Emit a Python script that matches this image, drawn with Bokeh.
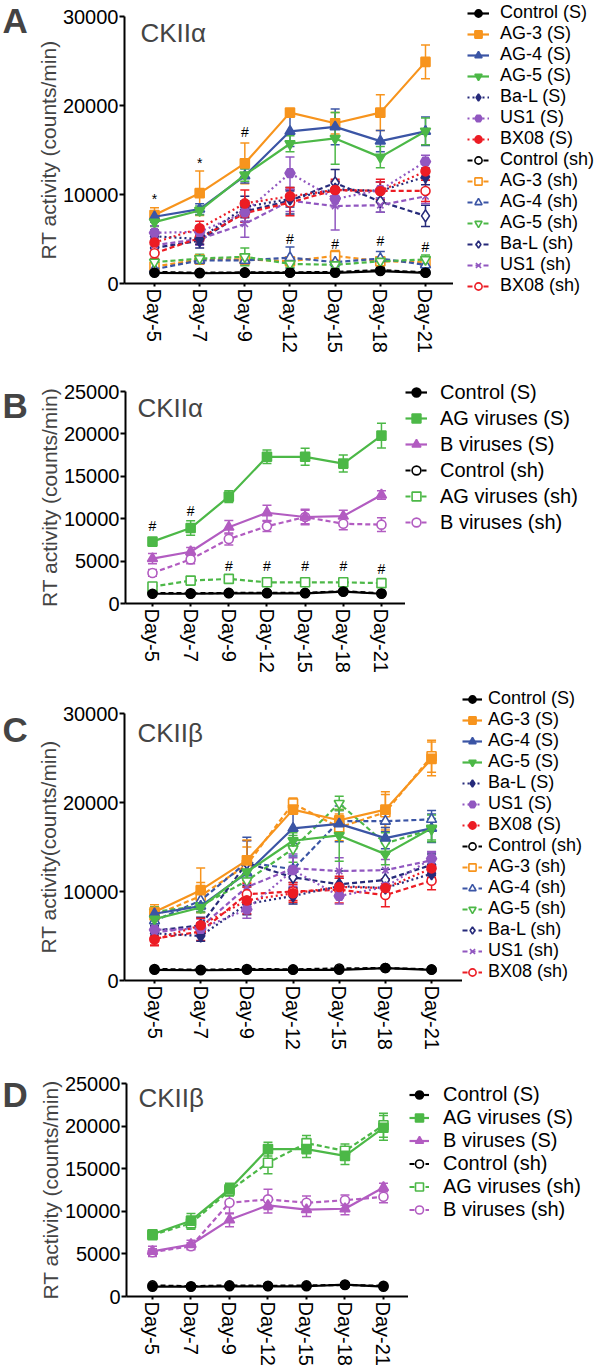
from bokeh.plotting import figure
from bokeh.models import (Range1d, FixedTicker, Legend, LegendItem, Label,
                          Whisker, TeeHead, ColumnDataSource)
from bokeh.layouts import column, row
from bokeh.embed import file_html
from bokeh.resources import INLINE

FONT = "Liberation Sans"

# ---------------- data ----------------
days = ["Day-5", "Day-7", "Day-9", "Day-12", "Day-15", "Day-18", "Day-21"]

# Panel A / C  (individual viruses), S series shared
control_s = [1200, 1150, 1200, 1200, 1200, 1400, 1200]
ag3_s = [7700, 10150, 13500, 19200, 18000, 19200, 24900]
ag4_s = [7500, 8350, 12100, 17100, 17600, 16000, 17100]
ag5_s = [6900, 8200, 12200, 15700, 16300, 14200, 17100]
bal_s = [5300, 5000, 8600, 9500, 10600, 10400, 12000]
us1_s = [5700, 5800, 8000, 12400, 9500, 10500, 13700]
bx08_s = [4600, 6200, 9000, 9800, 10500, 10400, 12600]

control_s_err = [150, 150, 150, 150, 150, 200, 150]
ag3_s_err = [800, 2500, 2300, 400, 1200, 2000, 1900]
ag4_s_err = [600, 600, 800, 1700, 2000, 1200, 1600]
ag5_s_err = [500, 500, 700, 900, 2900, 1200, 1500]
bal_s_err = [700, 600, 1200, 900, 900, 1000, 900]
us1_s_err = [800, 700, 1000, 1800, 900, 900, 700]
bx08_s_err = [700, 800, 1500, 1000, 1000, 1000, 1000]

# Panel A sh series (CKII alpha)
control_sh_a = [1300, 1200, 1250, 1250, 1300, 1500, 1250]
ag3_sh_a = [1900, 2700, 2700, 2500, 3100, 2500, 2400]
ag4_sh_a = [1600, 2600, 2600, 2900, 2400, 2800, 2100]
ag5_sh_a = [2400, 2800, 3000, 2200, 2100, 2500, 2700]
bal_sh_a = [4000, 4800, 8100, 9300, 11300, 9200, 7600]
us1_sh_a = [4300, 5000, 6700, 9300, 8700, 8800, 9800]
bx08_sh_a = [3400, 5100, 7900, 9100, 10500, 10400, 10400]

control_sh_a_err = [150, 150, 150, 150, 150, 200, 150]
ag3_sh_a_err = [400, 400, 600, 500, 600, 400, 400]
ag4_sh_a_err = [400, 400, 500, 1200, 500, 800, 500]
ag5_sh_a_err = [400, 500, 1000, 400, 400, 500, 500]
bal_sh_a_err = [700, 800, 1200, 1500, 1500, 1200, 1200]
us1_sh_a_err = [700, 700, 1500, 1200, 2700, 800, 800]
bx08_sh_a_err = [600, 700, 1000, 1500, 1200, 1300, 1200]

a_marks = ["*", "*", "#", "#", "#", "#", "#"]
a_mark_y = [9545, 13570, 17010, 5035, 4476, 4812, 4140]

# Panel C sh series (CKII beta)
control_sh_c = [1300, 1200, 1300, 1250, 1350, 1400, 1250]
ag3_sh_c = [7300, 9500, 13000, 19900, 17200, 18900, 25200]
ag4_sh_c = [6700, 9000, 13300, 12500, 17900, 17900, 18100]
ag5_sh_c = [7700, 8400, 11200, 14800, 19900, 15400, 17000]
bal_sh_c = [5600, 6200, 13200, 11600, 10800, 11300, 13000]
us1_sh_c = [5400, 6000, 10500, 12600, 12300, 12400, 13500]
bx08_sh_c = [4700, 5500, 9700, 10000, 10200, 9600, 11200]

control_sh_c_err = [150, 150, 150, 150, 150, 200, 150]
ag3_sh_c_err = [700, 1500, 2000, 600, 1500, 2000, 1800]
ag4_sh_c_err = [600, 800, 2800, 1500, 1200, 1200, 1000]
ag5_sh_c_err = [600, 800, 1500, 1500, 800, 1200, 1200]
bal_sh_c_err = [600, 900, 2500, 1200, 1500, 1200, 1200]
us1_sh_c_err = [600, 900, 1500, 1200, 1500, 1200, 1000]
bx08_sh_c_err = [700, 1000, 1200, 1000, 1500, 1300, 1000]

# Panel B / D (grouped viruses), S series shared
control_grp_s = [1150, 1150, 1200, 1200, 1200, 1400, 1150]
ag_grp_s = [7300, 8900, 12600, 17300, 17300, 16500, 19800]
b_grp_s = [5300, 6100, 9000, 10700, 10200, 10300, 12800]
control_grp_s_err = [150, 150, 150, 150, 150, 200, 150]
ag_grp_s_err = [400, 850, 700, 800, 1000, 1000, 1450]
b_grp_s_err = [600, 500, 800, 900, 800, 700, 500]

control_sh_b = [1250, 1200, 1250, 1250, 1250, 1450, 1200]
ag_sh_b = [2000, 2700, 2900, 2500, 2500, 2500, 2400]
b_sh_b = [3600, 5200, 7600, 9100, 10200, 9400, 9300]
control_sh_b_err = [150, 150, 150, 150, 150, 200, 150]
ag_sh_b_err = [400, 400, 400, 400, 400, 400, 400]
b_sh_b_err = [400, 500, 700, 600, 900, 700, 800]

b_marks = ["#", "#", "#", "#", "#", "#", "#"]
b_mark_y = [9110, 10960, 4480, 4480, 4480, 4480, 4090]

control_sh_d = [1300, 1200, 1300, 1250, 1300, 1350, 1250]
ag_sh_d = [7200, 8600, 12400, 15700, 18000, 17100, 20100]
b_sh_d = [5200, 5900, 11000, 11400, 11000, 11300, 11700]
control_sh_d_err = [150, 150, 150, 150, 150, 200, 150]
ag_sh_d_err = [400, 700, 600, 1300, 900, 800, 1400]
b_sh_d_err = [400, 400, 1300, 1200, 800, 600, 700]

# ---------------- styles ----------------
BLACK = "#000000"
ORANGE = "#F7941D"
BLUE = "#3B55A5"
GREEN = "#4CB847"
NAVY = "#262A7A"
PURPLE = "#9157C0"
RED = "#EC1C24"
MAGENTA = "#B25CC1"
SOLID, DOT, DASH = "solid", "2 3", "5 3"

MSIZE = {"circle": 9, "square": 9, "triangle": 10, "inverted_triangle": 10,
         "diamond": 12, "hex": 10, "x": 9}

LETTER_W = 30
TOTAL_W = 594
xs = list(range(len(days)))


def individual_series(sh_vals, sh_errs):
    s = [
        ("Control (S)", control_s, control_s_err, BLACK, "circle", True, SOLID),
        ("AG-3 (S)", ag3_s, ag3_s_err, ORANGE, "square", True, SOLID),
        ("AG-4 (S)", ag4_s, ag4_s_err, BLUE, "triangle", True, SOLID),
        ("AG-5 (S)", ag5_s, ag5_s_err, GREEN, "inverted_triangle", True, SOLID),
        ("Ba-L (S)", bal_s, bal_s_err, NAVY, "diamond", True, DOT),
        ("US1 (S)", us1_s, us1_s_err, PURPLE, "hex", True, DOT),
        ("BX08 (S)", bx08_s, bx08_s_err, RED, "circle", True, DOT),
    ]
    names = ["Control (sh)", "AG-3 (sh)", "AG-4 (sh)", "AG-5 (sh)",
             "Ba-L (sh)", "US1 (sh)", "BX08 (sh)"]
    cols = [BLACK, ORANGE, BLUE, GREEN, NAVY, PURPLE, RED]
    marks = ["circle", "square", "triangle", "inverted_triangle", "diamond", "x", "circle"]
    for n, v, e, c, m in zip(names, sh_vals, sh_errs, cols, marks):
        s.append((n, v, e, c, m, False, DASH))
    return s


def group_series(sh_vals, sh_errs):
    s = [
        ("Control (S)", control_grp_s, control_grp_s_err, BLACK, "circle", True, SOLID),
        ("AG viruses (S)", ag_grp_s, ag_grp_s_err, GREEN, "square", True, SOLID),
        ("B viruses (S)", b_grp_s, b_grp_s_err, MAGENTA, "triangle", True, SOLID),
    ]
    names = ["Control (sh)", "AG viruses (sh)", "B viruses (sh)"]
    cols = [BLACK, GREEN, MAGENTA]
    marks = ["circle", "square", "circle"]
    for n, v, e, c, m in zip(names, sh_vals, sh_errs, cols, marks):
        s.append((n, v, e, c, m, False, DASH))
    return s


def bare_fig(width, height):
    f = figure(width=width, height=height, output_backend="svg",
               toolbar_location=None, x_range=Range1d(0, 1), y_range=Range1d(0, 1),
               min_border=0, min_border_left=0, min_border_right=0,
               min_border_top=0, min_border_bottom=0, frame_align=False)
    f.axis.visible = False
    f.grid.visible = False
    f.outline_line_color = None
    return f


def letter_fig(letter, height, baseline_y):
    f = bare_fig(LETTER_W, height)
    f.add_layout(Label(x=2, y=baseline_y, x_units="screen", y_units="screen",
                       text=letter, text_font=FONT, text_font_size="35px",
                       text_font_style="bold", text_baseline="alphabetic"))
    return f


def style_line(fig, col, mk, filled, dash, src):
    lr = fig.line("x", "y", source=src, line_color=col, line_width=2.2, line_dash=dash)
    mr = fig.scatter("x", "y", source=src, marker=mk, size=MSIZE[mk],
                     fill_color=col if filled else "white", line_color=col,
                     line_width=1.6)
    return lr, mr


def panel(series, letter, letter_y, title, title_loc, ylabel, ymax, ystep,
          height, borders, frame_right, xr, leg, marks=None, mark_y=None):
    top, bottom, left = borders
    main_w = frame_right - LETTER_W
    p = figure(width=main_w, height=height, output_backend="svg",
               toolbar_location=None,
               x_range=Range1d(*xr), y_range=Range1d(0, ymax),
               min_border_top=top, min_border_bottom=bottom,
               min_border_left=left, min_border_right=0, frame_align=False)
    p.outline_line_color = None
    p.grid.visible = False
    p.background_fill_color = "white"

    for ax in (p.xaxis[0], p.yaxis[0]):
        ax.axis_line_width = 2
        ax.axis_line_color = "black"
        ax.major_tick_line_width = 2
        ax.major_tick_in = 0
        ax.minor_tick_line_color = None
        ax.major_label_text_font = FONT
        ax.major_label_text_font_size = "20px"
        ax.major_label_text_color = "black"
    p.xaxis.ticker = FixedTicker(ticks=xs)
    p.xaxis.major_label_overrides = {i: d for i, d in enumerate(days)}
    p.xaxis.major_label_orientation = "vertical"
    p.xaxis.major_tick_out = 3
    p.xaxis.major_label_standoff = 2
    p.yaxis.ticker = FixedTicker(ticks=list(range(0, ymax + 1, ystep)))
    p.yaxis.major_tick_out = 5
    p.yaxis.major_label_standoff = 1
    p.yaxis.axis_label = ylabel
    p.yaxis.axis_label_text_font = FONT
    p.yaxis.axis_label_text_font_size = "21px"
    p.yaxis.axis_label_text_font_style = "normal"
    p.yaxis.axis_label_standoff = 0

    # legend lives in its own figure to the right of the plot
    lf = bare_fig(TOTAL_W - frame_right, height)
    ghost = ColumnDataSource(dict(x=[-10], y=[-10]))
    # draw the (sh) series first so the (S) series sit on top
    order = [s for s in series if not s[5]] + [s for s in series if s[5]]
    for name, vals, errs, col, mk, filled, dash in order:
        src = ColumnDataSource(dict(x=xs, y=vals,
                                    upper=[v + e for v, e in zip(vals, errs)],
                                    lower=[v - e for v, e in zip(vals, errs)]))
        w = Whisker(source=src, base="x", upper="upper", lower="lower",
                    line_color=col, line_width=1.5,
                    upper_head=TeeHead(size=9, line_color=col, line_width=1.5),
                    lower_head=TeeHead(size=9, line_color=col, line_width=1.5))
        p.add_layout(w)
        style_line(p, col, mk, filled, dash, src)
    items = []
    for name, vals, errs, col, mk, filled, dash in series:
        lr, mr = style_line(lf, col, mk, filled, dash, ghost)
        items.append(LegendItem(label=name, renderers=[lr, mr]))

    lx, ly, lfs, lh, lsp, lstand, gw = leg
    legend = Legend(items=items, location=(lx, ly), margin=0, padding=0,
                    spacing=lsp, glyph_width=gw, glyph_height=lh, label_height=lh,
                    label_standoff=lstand, label_text_font=FONT,
                    label_text_font_size=lfs, label_text_color="black",
                    background_fill_alpha=0, border_line_alpha=0)
    lf.add_layout(legend)

    if marks is not None:
        msrc = ColumnDataSource(dict(x=xs, y=mark_y, t=marks))
        p.text("x", "y", text="t", source=msrc, text_align="center",
               text_baseline="alphabetic", text_font_size="14px", text_color="black")

    p.add_layout(Label(x=title_loc[0], y=title_loc[1], x_units="screen",
                       y_units="screen", text=title, text_font=FONT,
                       text_font_size="26px", text_baseline="alphabetic"))
    return row(letter_fig(letter, height, letter_y), p, lf, spacing=0)


rA = panel(individual_series(
    [control_sh_a, ag3_sh_a, ag4_sh_a, ag5_sh_a, bal_sh_a, us1_sh_a, bx08_sh_a],
    [control_sh_a_err, ag3_sh_a_err, ag4_sh_a_err, ag5_sh_a_err, bal_sh_a_err,
     us1_sh_a_err, bx08_sh_a_err]),
    "A", 335, "CKII\u03b1", (16, 251), "RT activity (counts/min)",
    30000, 10000, 355, (16, 71, 94), 453, (-0.664, 6.62),
    (14, 59, "18px", 18, 0, 11, 22), a_marks, a_mark_y)

rB = panel(group_series([control_sh_b, ag_sh_b, b_sh_b],
                        [control_sh_b_err, ag_sh_b_err, b_sh_b_err]),
           "B", 275, "CKII\u03b1", (12, 196), "RT activity (counts/min)",
           25000, 5000, 325, (36, 77, 95), 405, (-0.707, 6.63),
           (0, 146, "20px", 24, 2, 13, 22), b_marks, b_mark_y)

rC = panel(individual_series(
    [control_sh_c, ag3_sh_c, ag4_sh_c, ag5_sh_c, bal_sh_c, us1_sh_c, bx08_sh_c],
    [control_sh_c_err, ag3_sh_c_err, ag4_sh_c_err, ag5_sh_c_err, bal_sh_c_err,
     us1_sh_c_err, bx08_sh_c_err]),
    "C", 333, "CKII\u03b2", (13, 248), "RT activity(counts/min)",
    30000, 10000, 382, (33, 82, 94), 462, (-0.65, 6.67),
    (0, 80, "18px", 18, 0, 6, 20))

rD = panel(group_series([control_sh_d, ag_sh_d, b_sh_d],
                        [control_sh_d_err, ag_sh_d_err, b_sh_d_err]),
           "D", 274, "CKII\u03b2", (12, 199), "RT activity (counts/min)",
           25000, 5000, 306, (21, 72, 96), 408, (-0.675, 6.65),
           (1, 147, "20px", 23, 0, 14, 20))

layout = column(rA, rB, rC, rD, spacing=0)
open("out.html", "w").write(file_html(layout, INLINE))
